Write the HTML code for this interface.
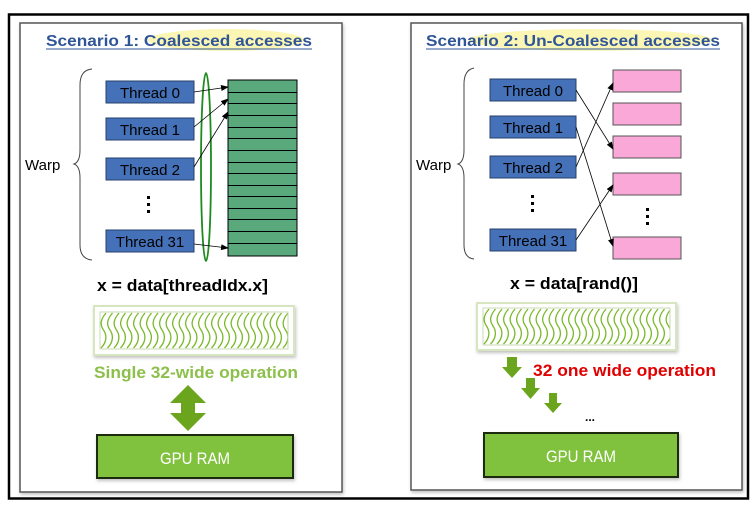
<!DOCTYPE html>
<html><head><meta charset="utf-8"><style>
html,body{margin:0;padding:0;background:#fff;}
svg{display:block;font-family:"Liberation Sans",Arial,sans-serif;}
</style></head><body>
<svg width="756" height="515" viewBox="0 0 756 515" xmlns="http://www.w3.org/2000/svg">
<defs>
<pattern id="wv1" x="100" y="312" width="6.5" height="37" patternUnits="userSpaceOnUse">
<path d="M6 1 C0 8,0 13,3.5 18 C7 23,7 30,1 36" fill="none" stroke="#7ab928" stroke-width="1.3"/>
</pattern>
<pattern id="wv2" x="483" y="308" width="6.5" height="37" patternUnits="userSpaceOnUse">
<path d="M6 1 C0 8,0 13,3.5 18 C7 23,7 30,1 36" fill="none" stroke="#7ab928" stroke-width="1.3"/>
</pattern>
<marker id="ah" markerWidth="8" markerHeight="6" refX="7" refY="3" orient="auto" markerUnits="userSpaceOnUse">
<path d="M0 0 L8 3 L0 6 Z" fill="#000"/>
</marker>
<filter id="sh" x="-5%" y="-5%" width="115%" height="120%"><feDropShadow dx="1" dy="2" stdDeviation="1.5" flood-color="#999" flood-opacity="0.6"/></filter>
</defs>
<rect x="0" y="0" width="756" height="515" fill="#fff"/>
<rect x="9" y="14.5" width="739" height="484" fill="none" stroke="#000" stroke-width="2.5"/>

<!-- LEFT PANEL -->
<rect x="20" y="23" width="322" height="469" fill="#fff" stroke="#555" stroke-width="1.5" filter="url(#sh)"/>
<ellipse cx="226" cy="40" rx="78" ry="11" fill="#fbf6b4"/>
<text x="46" y="46" font-size="16" font-weight="bold" fill="#2f5597" textLength="266" lengthAdjust="spacingAndGlyphs">Scenario 1: Coalesced accesses</text>
<line x1="46" y1="49" x2="312" y2="49" stroke="#2f5597" stroke-width="1"/>
<path d="M92 69 Q80 70 80 85 L80 150 Q80 162 74 164 Q80 166 80 178 L80 245 Q80 259 92 260" fill="none" stroke="#444" stroke-width="1"/>
<text x="25" y="170" font-size="15" fill="#000">Warp</text>
<g fill="#4471b7" stroke="#27406d" stroke-width="1">
<rect x="106" y="81" width="88" height="22"/><rect x="106" y="118" width="88" height="22"/>
<rect x="106" y="158" width="88" height="22"/><rect x="106" y="230" width="88" height="22"/>
</g>
<g font-size="15" fill="#000" text-anchor="middle">
<text x="150" y="98">Thread 0</text><text x="150" y="135">Thread 1</text>
<text x="150" y="175">Thread 2</text><text x="150" y="247">Thread 31</text>
</g>
<g fill="#000"><rect x="147" y="196" width="3" height="3"/><rect x="147" y="203" width="3" height="3"/><rect x="147" y="210" width="3" height="3"/></g>
<rect x="228" y="80" width="69" height="176" fill="#5aa97d" stroke="#000" stroke-width="1"/>
<g stroke="#000" stroke-width="1">
<line x1="228" y1="92.5" x2="297" y2="92.5"/><line x1="228" y1="103.5" x2="297" y2="103.5"/><line x1="228" y1="115.5" x2="297" y2="115.5"/>
<line x1="228" y1="127.5" x2="297" y2="127.5"/><line x1="228" y1="138.5" x2="297" y2="138.5"/><line x1="228" y1="150.5" x2="297" y2="150.5"/>
<line x1="228" y1="162.5" x2="297" y2="162.5"/><line x1="228" y1="173.5" x2="297" y2="173.5"/><line x1="228" y1="185.5" x2="297" y2="185.5"/>
<line x1="228" y1="196.5" x2="297" y2="196.5"/><line x1="228" y1="208.5" x2="297" y2="208.5"/><line x1="228" y1="219.5" x2="297" y2="219.5"/>
<line x1="228" y1="231.5" x2="297" y2="231.5"/><line x1="228" y1="243.5" x2="297" y2="243.5"/>
</g>
<ellipse cx="206" cy="167" rx="5" ry="94" fill="none" stroke="#1f8a1f" stroke-width="1.8"/>
<g stroke="#000" stroke-width="0.8" marker-end="url(#ah)" fill="none">
<line x1="194" y1="92" x2="228" y2="87"/><line x1="194" y1="127" x2="228" y2="99"/>
<line x1="194" y1="167" x2="228" y2="112"/><line x1="194" y1="244" x2="228" y2="248"/>
</g>
<text x="97" y="291" font-size="17" font-weight="bold" fill="#000" textLength="171" lengthAdjust="spacingAndGlyphs">x = data[threadIdx.x]</text>
<rect x="94" y="306" width="200" height="49" fill="#fff" stroke="#d8e6c0" stroke-width="2" filter="url(#sh)"/>
<rect x="100" y="312" width="188" height="37" fill="url(#wv1)" stroke="#ccd9b5" stroke-width="1"/>
<text x="94" y="378" font-size="17" font-weight="bold" fill="#8cc04b" textLength="204" lengthAdjust="spacingAndGlyphs">Single 32-wide operation</text>
<path d="M188 385 L206 403 L195 403 L195 413 L206 413 L188 431 L170 413 L181 413 L181 403 L170 403 Z" fill="#6aa51d"/>
<rect x="97" y="435" width="196" height="43" fill="#80c23d" stroke="#1e2a10" stroke-width="2" filter="url(#sh)"/>
<text x="195" y="464" font-size="17" fill="#fff" text-anchor="middle" textLength="70" lengthAdjust="spacingAndGlyphs">GPU RAM</text>

<!-- RIGHT PANEL -->
<rect x="411" y="23" width="331" height="467" fill="#fff" stroke="#555" stroke-width="1.5" filter="url(#sh)"/>
<ellipse cx="590" cy="40" rx="122" ry="11" fill="#fbf6b4"/>
<text x="426" y="46" font-size="16" font-weight="bold" fill="#2f5597" textLength="294" lengthAdjust="spacingAndGlyphs">Scenario 2: Un-Coalesced accesses</text>
<line x1="426" y1="49" x2="720" y2="49" stroke="#2f5597" stroke-width="1"/>
<path d="M474 68 Q464 70 464 84 L464 150 Q464 162 458 164 Q464 166 464 178 L464 245 Q464 258 474 259" fill="none" stroke="#444" stroke-width="1"/>
<text x="416" y="170" font-size="15" fill="#000">Warp</text>
<g fill="#4471b7" stroke="#27406d" stroke-width="1">
<rect x="490" y="79" width="86" height="22"/><rect x="490" y="116" width="86" height="22"/>
<rect x="490" y="156" width="86" height="22"/><rect x="490" y="229" width="86" height="22"/>
</g>
<g font-size="15" fill="#000" text-anchor="middle">
<text x="533" y="96">Thread 0</text><text x="533" y="133">Thread 1</text>
<text x="533" y="173">Thread 2</text><text x="533" y="246">Thread 31</text>
</g>
<g fill="#000"><rect x="531" y="195" width="3" height="3"/><rect x="531" y="202" width="3" height="3"/><rect x="531" y="209" width="3" height="3"/></g>
<g fill="#f9a8d8" stroke="#555" stroke-width="1">
<rect x="613" y="70" width="68" height="22"/><rect x="613" y="103" width="68" height="22"/>
<rect x="613" y="136" width="68" height="22"/><rect x="613" y="173" width="68" height="22"/>
<rect x="613" y="237" width="68" height="22"/>
</g>
<g fill="#000"><rect x="646" y="208" width="3" height="3"/><rect x="646" y="215" width="3" height="3"/><rect x="646" y="222" width="3" height="3"/></g>
<g stroke="#000" stroke-width="0.8" marker-end="url(#ah)" fill="none">
<line x1="576" y1="90" x2="613" y2="149"/><line x1="576" y1="127" x2="613" y2="246"/>
<line x1="576" y1="167" x2="613" y2="83"/><line x1="576" y1="240" x2="613" y2="185"/>
</g>
<text x="510" y="289" font-size="17" font-weight="bold" fill="#000" textLength="128" lengthAdjust="spacingAndGlyphs">x = data[rand()]</text>
<rect x="477" y="303" width="199" height="47" fill="#fff" stroke="#d8e6c0" stroke-width="2" filter="url(#sh)"/>
<rect x="483" y="308" width="187" height="37" fill="url(#wv2)" stroke="#ccd9b5" stroke-width="1"/>
<g fill="#6aa51d">
<path d="M507 357 L517 357 L517 367 L522 367 L512 378 L502 367 L507 367 Z"/>
<path d="M526 378 L535 378 L535 388 L540 388 L530.5 399 L521 388 L526 388 Z"/>
<path d="M549 393 L557 393 L557 403 L562 403 L553 413 L544 403 L549 403 Z"/>
</g>
<text x="533" y="376" font-size="17" font-weight="bold" fill="#e00000" textLength="183" lengthAdjust="spacingAndGlyphs">32 one wide operation</text>
<text x="590" y="421" font-size="12" font-weight="bold" fill="#000" text-anchor="middle">...</text>
<rect x="484" y="433" width="194" height="44" fill="#80c23d" stroke="#1e2a10" stroke-width="2" filter="url(#sh)"/>
<text x="581" y="462" font-size="17" fill="#fff" text-anchor="middle" textLength="70" lengthAdjust="spacingAndGlyphs">GPU RAM</text>
</svg>
</body></html>
